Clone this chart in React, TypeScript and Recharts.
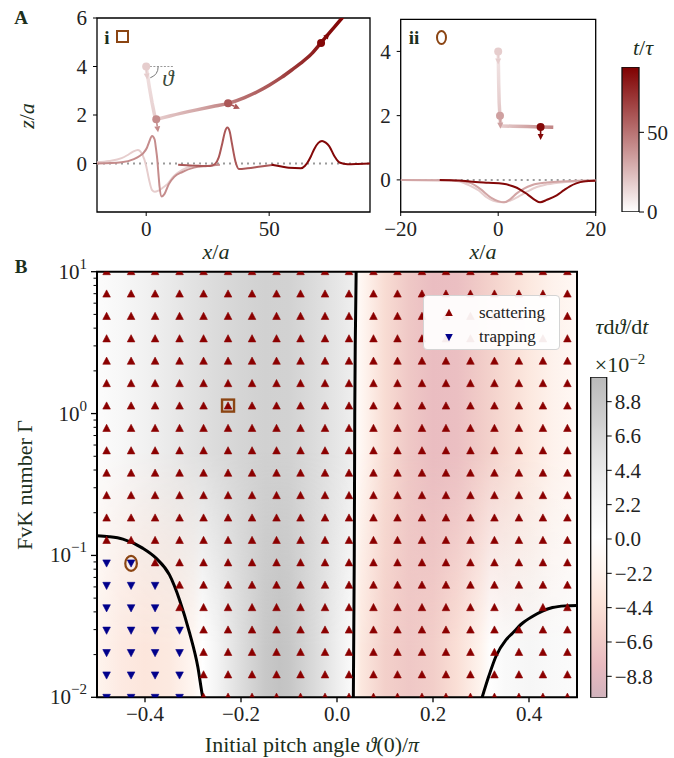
import React from "react";
import {
  ComposedChart,
  Line,
  Scatter,
  Bar,
  XAxis,
  YAxis,
  ReferenceArea,
  ReferenceLine,
  ReferenceDot,
  Legend,
} from "recharts";

const SERIF = '"Liberation Serif", "Times New Roman", serif';
const INK = "#1c2f1c";
const TICK_FILL = "#222";
const BROWN = "#8b4513";
const SCATTER_RED = "#8b0000";
const TRAP_BLUE = "#00008b";

// ---- panel A(i): sheet shape at four times + swimmer path ----
const sheetAi1 = [
  { x: -20, z: 0.05 }, { x: -15, z: 0.1 }, { x: -10, z: 0.22 }, { x: -7.7, z: 0.34 },
  { x: -5.5, z: 0.48 }, { x: -3.4, z: 0.56 }, { x: -1.6, z: 0.38 }, { x: 0, z: -0.1 },
  { x: 1.1, z: -0.64 }, { x: 2.4, z: -1.1 }, { x: 3.5, z: -1.17 }, { x: 5, z: -1.12 },
  { x: 7, z: -0.98 }, { x: 8.6, z: -0.85 }, { x: 11.3, z: -0.51 }, { x: 14.7, z: -0.26 },
  { x: 19, z: -0.1 }, { x: 22, z: -0.05 },
];
const sheetAi2 = [
  { x: -20, z: 0 }, { x: -10, z: 0.05 }, { x: -5, z: 0.18 }, { x: -2.5, z: 0.32 },
  { x: -1, z: 0.45 }, { x: 0.3, z: 0.65 }, { x: 1.1, z: 0.86 }, { x: 2.4, z: 1.13 },
  { x: 3.4, z: 1.0 }, { x: 4.0, z: 0.6 }, { x: 4.5, z: 0.18 }, { x: 5.0, z: -0.45 },
  { x: 5.4, z: -0.92 }, { x: 6.3, z: -1.36 }, { x: 7.4, z: -1.26 }, { x: 9.2, z: -0.85 },
  { x: 11.4, z: -0.55 }, { x: 14.7, z: -0.35 }, { x: 19.4, z: -0.17 }, { x: 24.8, z: -0.1 },
  { x: 30, z: -0.05 },
];
const sheetAi3 = [
  { x: 13, z: -0.05 }, { x: 18, z: -0.08 }, { x: 22, z: -0.1 }, { x: 26, z: -0.1 },
  { x: 28, z: -0.02 }, { x: 29.5, z: 0.25 }, { x: 31, z: 0.86 }, { x: 32, z: 1.3 },
  { x: 33, z: 1.48 }, { x: 34, z: 1.3 }, { x: 34.8, z: 0.86 }, { x: 36.4, z: 0.04 },
  { x: 37.7, z: -0.23 }, { x: 41.2, z: -0.2 }, { x: 46.6, z: -0.12 }, { x: 52, z: -0.05 },
];
const sheetAi4 = [
  { x: 51, z: -0.05 }, { x: 55, z: -0.12 }, { x: 58, z: -0.18 }, { x: 62.9, z: -0.2 },
  { x: 64.5, z: -0.1 }, { x: 65.6, z: 0.04 }, { x: 67, z: 0.3 }, { x: 68.3, z: 0.59 },
  { x: 70, z: 0.85 }, { x: 71.5, z: 0.93 }, { x: 73, z: 0.86 }, { x: 74.4, z: 0.72 },
  { x: 76.5, z: 0.31 }, { x: 78.6, z: 0.04 }, { x: 81.9, z: -0.03 }, { x: 86, z: -0.02 },
  { x: 91, z: 0 },
];
const sheetAiTimes = [18, 41, 60, 88];

const pathAiDescent = [
  { x: 0, z: 4.0, t: 11 }, { x: 1.2, z: 3.2, t: 13 }, { x: 2.4, z: 2.5, t: 15 },
  { x: 3.5, z: 1.95, t: 17 }, { x: 4.1, z: 1.82, t: 18 },
];
const pathAiCruise = [
  { x: 4.1, z: 1.82, t: 18 }, { x: 10, z: 1.97, t: 23 }, { x: 20, z: 2.2, t: 30 },
  { x: 27, z: 2.35, t: 38 }, { x: 33.3, z: 2.48, t: 45 }, { x: 40, z: 2.72, t: 52 },
  { x: 45, z: 2.95, t: 56 }, { x: 50, z: 3.23, t: 60 }, { x: 55, z: 3.55, t: 66 },
  { x: 60, z: 3.92, t: 72 }, { x: 63, z: 4.15, t: 75 }, { x: 67, z: 4.5, t: 79 },
  { x: 71, z: 4.97, t: 83 }, { x: 75, z: 5.45, t: 87 }, { x: 79, z: 5.92, t: 89 },
  { x: 82, z: 6.3, t: 90 },
];
const markersAi = [
  { x: 0, z: 4.0, t: 18, heading: -86 },
  { x: 4.1, z: 1.82, t: 41, heading: -82 },
  { x: 33.3, z: 2.48, t: 60, heading: -25 },
  { x: 71.1, z: 4.97, t: 88, heading: 50 },
];

// ---- panel A(ii) ----
const sheetAii1 = [
  { x: -20, z: 0 }, { x: -10, z: -0.02 }, { x: -8, z: -0.05 }, { x: -5.8, z: -0.18 },
  { x: -4, z: -0.33 }, { x: -2.4, z: -0.54 }, { x: -1, z: -0.65 }, { x: 1, z: -0.7 },
  { x: 2.5, z: -0.64 }, { x: 4.5, z: -0.49 }, { x: 6, z: -0.36 }, { x: 7.9, z: -0.22 },
  { x: 10, z: -0.14 }, { x: 13.4, z: -0.07 }, { x: 17, z: -0.04 }, { x: 20, z: -0.02 },
];
const sheetAii2 = [
  { x: -20, z: 0 }, { x: -10, z: -0.01 }, { x: -6, z: -0.08 }, { x: -3.7, z: -0.28 },
  { x: -1.5, z: -0.55 }, { x: 0, z: -0.66 }, { x: 1.2, z: -0.7 }, { x: 2.5, z: -0.6 },
  { x: 3.8, z: -0.42 }, { x: 5.2, z: -0.28 }, { x: 7, z: -0.16 }, { x: 10, z: -0.08 },
  { x: 14, z: -0.04 }, { x: 20, z: -0.01 },
];
const sheetAii3 = [
  { x: -12, z: 0 }, { x: -8, z: -0.02 }, { x: -5.8, z: -0.05 }, { x: -2, z: -0.09 },
  { x: 1, z: -0.12 }, { x: 3, z: -0.2 }, { x: 4.5, z: -0.3 }, { x: 6, z: -0.45 },
  { x: 7.5, z: -0.62 }, { x: 8.6, z: -0.7 }, { x: 10, z: -0.62 }, { x: 12, z: -0.48 },
  { x: 13.5, z: -0.32 }, { x: 14.7, z: -0.2 }, { x: 16, z: -0.11 }, { x: 17.5, z: -0.05 },
  { x: 20, z: -0.03 },
];
const sheetAiiTimes = [18, 32, 88];

const pathAiiDescent = [
  { x: 0, z: 4.0, t: 9 }, { x: 0.1, z: 3.0, t: 14 }, { x: 0.2, z: 2.4, t: 18 },
  { x: 0.35, z: 2.0, t: 21 }, { x: 0.5, z: 1.75, t: 23 }, { x: 0.6, z: 1.68, t: 24 },
];
const pathAiiCruise = [
  { x: 0.6, z: 1.68, t: 18 }, { x: 3, z: 1.67, t: 24 }, { x: 6, z: 1.66, t: 32 },
  { x: 8.7, z: 1.65, t: 38 }, { x: 11.3, z: 1.64, t: 44 },
];
const markersAii = [
  { x: 0, z: 4.0, t: 18, heading: -90 },
  { x: 0.37, z: 2.0, t: 34, heading: -88 },
  { x: 8.7, z: 1.65, t: 88, heading: -90 },
];

// ---- panel B: simulation grid ----
const pitchGrid = [
  -0.48, -0.429, -0.379, -0.328, -0.278, -0.227, -0.177, -0.126, -0.076, -0.025,
  0.025, 0.076, 0.126, 0.177, 0.227, 0.278, 0.328, 0.379, 0.429, 0.48,
];
const fvkGrid = [
  0.01, 0.01438, 0.02069, 0.02976, 0.04281, 0.06158, 0.08859, 0.1274, 0.1833, 0.2637,
  0.3793, 0.5456, 0.7848, 1.129, 1.624, 2.336, 3.36, 4.833, 6.952, 10,
];
// number of trapped runs (from the left) in each row, bottom row first
const trappedPerRow = [4, 4, 4, 4, 3, 3, 2, 0, 0, 0, 0, 0, 0, 0, 0, 0, 0, 0, 0, 0];

const squareRun = [{ x: -0.227, g: 1.129 }];
const circleRun = [{ x: -0.429, g: 0.08859 }];

const boundaryLeft = [
  { x: -0.5, g: 0.1375 }, { x: -0.475, g: 0.1355 }, { x: -0.446, g: 0.1303 },
  { x: -0.405, g: 0.1126 }, { x: -0.377, g: 0.0957 }, { x: -0.349, g: 0.0729 },
  { x: -0.328, g: 0.0486 }, { x: -0.307, g: 0.0283 }, { x: -0.29, g: 0.0164 },
  { x: -0.2797, g: 0.01 }, { x: -0.278, g: 0.0094 },
];
const boundaryMid = [
  { x: 0.034, g: 0.0094 }, { x: 0.035, g: 0.03 }, { x: 0.036, g: 0.1 }, { x: 0.0365, g: 0.3 },
  { x: 0.037, g: 1 }, { x: 0.038, g: 3 }, { x: 0.04, g: 10.5 },
];
const boundaryRight = [
  { x: 0.3, g: 0.0094 }, { x: 0.316, g: 0.014 }, { x: 0.331, g: 0.0194 }, { x: 0.352, g: 0.0254 },
  { x: 0.3655, g: 0.0283 }, { x: 0.385, g: 0.033 }, { x: 0.407, g: 0.0371 }, { x: 0.428, g: 0.0405 },
  { x: 0.449, g: 0.0429 }, { x: 0.475, g: 0.0441 }, { x: 0.5, g: 0.0444 },
];

// background tau*dtheta/dt (x1e-2): profile at large Gamma and at Gamma = 0.01
const fieldXTop = [
  -0.5, -0.45, -0.4, -0.35, -0.3, -0.25, -0.2, -0.15, -0.1, -0.05, 0, 0.02, 0.036, 0.04,
  0.06, 0.1, 0.15, 0.2, 0.25, 0.3, 0.35, 0.4, 0.45, 0.5,
];
const fieldTop = [
  0.8, 1.8, 3.0, 4.2, 5.3, 6.3, 7.0, 7.5, 7.3, 6.3, 4.8, 4.0, 3.3, -0.6,
  -2.2, -4.8, -6.8, -7.8, -7.6, -6.4, -5.0, -3.5, -2.2, -1.2,
];
const fieldXBottom = [
  -0.5, -0.45, -0.4, -0.35, -0.3, -0.28, -0.25, -0.2, -0.15, -0.12, -0.1, -0.05, 0, 0.02,
  0.034, 0.038, 0.05, 0.1, 0.15, 0.2, 0.25, 0.3, 0.32, 0.35, 0.4, 0.45, 0.5,
];
const fieldBottom = [
  -2.0, -3.2, -3.8, -3.4, -1.6, 0.2, 2.5, 6.0, 8.5, 9.2, 8.8, 6.5, 3.5, 2.0,
  1.0, -1.5, -3.5, -6.0, -6.8, -6.2, -4.5, -2.0, 0.3, 1.5, 2.0, 1.5, 1.0,
];

const pitchTicks = [-0.4, -0.2, 0, 0.2, 0.4];
const gammaTicks = [
  0.01, 0.02, 0.03, 0.04, 0.05, 0.06, 0.07, 0.08, 0.09,
  0.1, 0.2, 0.3, 0.4, 0.5, 0.6, 0.7, 0.8, 0.9,
  1, 2, 3, 4, 5, 6, 7, 8, 9, 10,
];
const fieldTicks = [-8.8, -6.6, -4.4, -2.2, 0, 2.2, 4.4, 6.6, 8.8];
const timeTicks = [0, 50];

const legendItems = [
  { label: "scattering", color: SCATTER_RED, up: true },
  { label: "trapping", color: TRAP_BLUE, up: false },
];

// ---- colour maps ----
const TIME_MAX = 91;
const FIELD_MIN = -10.17;
const FIELD_MAX = 10.38;
const RDGY = [
  "#67001f", "#b2182b", "#d6604d", "#f4a582", "#fddbc7", "#ffffff",
  "#e0e0e0", "#bababa", "#878787", "#4d4d4d", "#1a1a1a",
];
const timeBarData = [{ k: "t", span: [0, TIME_MAX] }];
const fieldBarData = [{ k: "f", span: [FIELD_MIN, FIELD_MAX] }];

const hex = (h: string) => [1, 3, 5].map((i) => parseInt(h.slice(i, i + 2), 16));
const rgb = (c: number[]) => `rgb(${c.map((v) => Math.round(v)).join(",")})`;

function timeColor(t: number) {
  const f = Math.min(1, Math.max(0, t / TIME_MAX));
  return rgb([255 - 128 * f, 255 * (1 - f), 255 * (1 - f)]);
}

function fieldColor(v: number) {
  const t = Math.min(1, Math.max(0, (v - FIELD_MIN) / (FIELD_MAX - FIELD_MIN)));
  const p = t * (RDGY.length - 1);
  const i = Math.min(RDGY.length - 2, Math.floor(p));
  const f = p - i;
  const a = hex(RDGY[i]);
  const b = hex(RDGY[i + 1]);
  return rgb(a.map((av, k) => 255 + (av + (b[k] - av) * f - 255) * 0.3));
}

const fmt = (v: number, d = 0) => (v < -1e-9 ? "\u2212" : "") + Math.abs(v).toFixed(d);

const scattering: { x: number; g: number }[] = [];
const trapping: { x: number; g: number }[] = [];
fvkGrid.forEach((g, row) =>
  pitchGrid.forEach((x, col) => (col < trappedPerRow[row] ? trapping : scattering).push({ x, g }))
);

const TICK_SIZE = 21;
const LABEL_SIZE = 22;
const tickStyle = { fill: TICK_FILL, fontSize: TICK_SIZE, fontFamily: SERIF };

// ---- shapes ----
function PathMarker(p: any) {
  const { cx, cy, payload } = p;
  const col = timeColor(payload.t);
  const a = (payload.heading * Math.PI) / 180;
  const dx = Math.cos(a);
  const dy = -Math.sin(a);
  const L = 13;
  const ex = cx + L * dx;
  const ey = cy + L * dy;
  const bx = ex - 6 * dx;
  const by = ey - 6 * dy;
  const nx = -dy;
  const ny = dx;
  return (
    <g>
      <line x1={cx} y1={cy} x2={bx} y2={by} stroke={col} strokeWidth={1.6} />
      <polygon
        points={`${ex},${ey} ${bx + 3 * nx},${by + 3 * ny} ${bx - 3 * nx},${by - 3 * ny}`}
        fill={col}
      />
      <circle cx={cx} cy={cy} r={4} fill={col} />
    </g>
  );
}

const TriUp = (p: any) => (
  <polygon
    points={`${p.cx},${p.cy - 4.2} ${p.cx - 3.8},${p.cy + 3} ${p.cx + 3.8},${p.cy + 3}`}
    fill={SCATTER_RED}
    stroke={SCATTER_RED}
    strokeWidth={0.6}
  />
);
const TriDown = (p: any) => (
  <polygon
    points={`${p.cx},${p.cy + 4.2} ${p.cx - 3.8},${p.cy - 3} ${p.cx + 3.8},${p.cy - 3}`}
    fill={TRAP_BLUE}
    stroke={TRAP_BLUE}
    strokeWidth={0.6}
  />
);
const SquareMark = (p: any) => (
  <rect x={p.cx - 6} y={p.cy - 6.5} width={12} height={12} fill="none" stroke={BROWN} strokeWidth={2.4} />
);
const CircleMark = (p: any) => (
  <ellipse cx={p.cx} cy={p.cy + 0.5} rx={5.8} ry={7.5} fill="none" stroke={BROWN} strokeWidth={2.2} />
);

const HeatShape = (p: any) => (
  <g>
    <rect x={p.x} y={p.y} width={p.width} height={p.height} fill="url(#heatTop)" />
    <rect x={p.x} y={p.y} width={p.width} height={p.height} fill="url(#heatBottom)" mask="url(#heatFade)" />
  </g>
);

const AngleMark = (p: any) => {
  const { cx, cy } = p;
  const r = 12;
  const a = (70 * Math.PI) / 180;
  return (
    <g>
      <path
        d={`M ${cx + r} ${cy} A ${r} ${r} 0 0 1 ${cx + r * Math.cos(a)} ${cy + r * Math.sin(a)}`}
        fill="none"
        stroke="#777"
        strokeWidth={1}
      />
      <text x={cx + 16} y={cy + 19} fontSize={23} fontStyle="italic" fontFamily={SERIF} fill="#3a4a3a">
        ϑ
      </text>
    </g>
  );
};

function LogTick(p: any) {
  const { x, y, payload } = p;
  const e = Math.log10(payload.value);
  const exp = Math.round(e);
  const major = Math.abs(e - exp) < 1e-6;
  const len = major ? 6 : 3.5;
  return (
    <g>
      <line x1={x - len} x2={x} y1={y} y2={y} stroke="#000" strokeWidth={major ? 1.3 : 1} />
      {major && (
        <text x={x - 10} y={y + 7} textAnchor="end" fill={TICK_FILL} fontSize={TICK_SIZE} fontFamily={SERIF}>
          10
          <tspan dy={-10} fontSize={15}>
            {exp < 0 ? "\u2212" + -exp : String(exp)}
          </tspan>
        </text>
      )}
    </g>
  );
}

function LegendBox() {
  return (
    <div
      style={{
        width: 137,
        height: 55,
        boxSizing: "border-box",
        border: "1.3px solid #d4d4d4",
        borderRadius: 4,
        background: "rgba(255,255,255,0.93)",
        position: "relative",
        fontFamily: SERIF,
        fontSize: 17,
        color: TICK_FILL,
      }}
    >
      {legendItems.map((it, i) => (
        <div key={it.label} style={{ position: "absolute", left: 0, top: 7 + i * 24, height: 20, width: 137 }}>
          <svg width={20} height={20} style={{ position: "absolute", left: 15, top: 0 }}>
            <polygon
              points={it.up ? "10,5.8 6.2,13 13.8,13" : "10,14.2 6.2,7 13.8,7"}
              fill={it.color}
            />
          </svg>
          <span style={{ position: "absolute", left: 55, top: 0, lineHeight: "20px" }}>{it.label}</span>
        </div>
      ))}
    </div>
  );
}

// ---- gradients ----
const stopsAlong = (pts: { x: number; z: number; t: number }[], key: "x" | "z", flip: boolean) => {
  const vals = pts.map((q) => q[key]);
  const lo = Math.min(...vals);
  const hi = Math.max(...vals);
  return pts.map((q, i) => {
    const o = flip ? (hi - q[key]) / (hi - lo) : (q[key] - lo) / (hi - lo);
    return <stop key={i} offset={o} stopColor={timeColor(q.t)} />;
  });
};

function Defs() {
  const barStops = [];
  for (let i = 0; i <= 40; i++) {
    const v = FIELD_MAX - ((FIELD_MAX - FIELD_MIN) * i) / 40;
    barStops.push(<stop key={i} offset={i / 40} stopColor={fieldColor(v)} />);
  }
  return (
    <svg width={0} height={0} style={{ position: "absolute" }}>
      <defs>
        <linearGradient id="heatTop" x1="0" y1="0" x2="1" y2="0">
          {fieldXTop.map((x, i) => (
            <stop key={i} offset={x + 0.5} stopColor={fieldColor(fieldTop[i])} />
          ))}
        </linearGradient>
        <linearGradient id="heatBottom" x1="0" y1="0" x2="1" y2="0">
          {fieldXBottom.map((x, i) => (
            <stop key={i} offset={x + 0.5} stopColor={fieldColor(fieldBottom[i])} />
          ))}
        </linearGradient>
        <linearGradient id="heatFadeGrad" x1="0" y1="0" x2="0" y2="1">
          <stop offset={0.42} stopColor="#000" />
          <stop offset={0.88} stopColor="#fff" />
        </linearGradient>
        <mask id="heatFade" maskContentUnits="objectBoundingBox">
          <rect x={0} y={0} width={1} height={1} fill="url(#heatFadeGrad)" />
        </mask>
        <linearGradient id="pathAiDown" x1="0" y1="0" x2="0" y2="1">
          {stopsAlong(pathAiDescent, "z", true)}
        </linearGradient>
        <linearGradient id="pathAiCruise" x1="0" y1="0" x2="1" y2="0">
          {stopsAlong(pathAiCruise, "x", false)}
        </linearGradient>
        <linearGradient id="pathAiiDown" x1="0" y1="0" x2="0" y2="1">
          {stopsAlong(pathAiiDescent, "z", true)}
        </linearGradient>
        <linearGradient id="pathAiiCruise" x1="0" y1="0" x2="1" y2="0">
          {stopsAlong(pathAiiCruise, "x", false)}
        </linearGradient>
        <linearGradient id="fieldBar" x1="0" y1="0" x2="0" y2="1">
          {barStops}
        </linearGradient>
        <linearGradient id="timeBar" x1="0" y1="0" x2="0" y2="1">
          <stop offset={0} stopColor={timeColor(TIME_MAX)} />
          <stop offset={1} stopColor={timeColor(0)} />
        </linearGradient>
      </defs>
    </svg>
  );
}

function Text({ x, y, size = LABEL_SIZE, rotate = false, style, children }: any) {
  return (
    <div
      style={{
        position: "absolute",
        left: x,
        top: y,
        transform: `translate(-50%, -50%)${rotate ? " rotate(-90deg)" : ""}`,
        whiteSpace: "nowrap",
        fontFamily: SERIF,
        fontSize: size,
        color: INK,
        lineHeight: 1,
        ...style,
      }}
    >
      {children}
    </div>
  );
}

const it = { fontStyle: "italic" as const };

export default function App() {
  const sheetsAi = [sheetAi1, sheetAi2, sheetAi3, sheetAi4];
  const sheetsAii = [sheetAii1, sheetAii2, sheetAii3];
  return (
    <div style={{ position: "absolute", left: 0, top: 0, width: 674, height: 758, background: "#fff" }}>
      <Defs />

      {/* A (i) */}
      <div style={{ position: "absolute", left: 0, top: 0 }}>
        <ComposedChart width={380} height={260} margin={{ top: 18, right: 10, bottom: 18, left: 37 }}>
          <XAxis type="number" dataKey="x" domain={[-20, 91]} ticks={[0, 50]} tickFormatter={(v) => fmt(v)}
            allowDataOverflow height={30} tickSize={4} tickMargin={5} interval={0}
            axisLine={false} tickLine={{ stroke: "#000" }} tick={tickStyle} />
          <YAxis type="number" dataKey="z" domain={[-2, 6]} ticks={[0, 2, 4, 6]} tickFormatter={(v) => fmt(v)}
            allowDataOverflow width={60} tickSize={4} tickMargin={6} interval={0}
            axisLine={false} tickLine={{ stroke: "#000" }} tick={tickStyle} />
          <ReferenceLine y={0} stroke="#9a9a9a" strokeWidth={2} strokeDasharray="2 4" />
          {sheetsAi.map((s, i) => (
            <Line key={i} data={s} dataKey="z" type="monotone" stroke={timeColor(sheetAiTimes[i])}
              strokeWidth={2} dot={false} isAnimationActive={false} />
          ))}
          <ReferenceLine segment={[{ x: 1.5, y: 4 }, { x: 11, y: 4 }]} stroke="#999" strokeWidth={1} strokeDasharray="2 1.5" />
          <ReferenceDot x={0} y={4} r={0} shape={AngleMark} />
          <Line data={pathAiDescent} dataKey="z" type="linear" stroke="url(#pathAiDown)" strokeWidth={3.5}
            dot={false} isAnimationActive={false} />
          <Line data={pathAiCruise} dataKey="z" type="monotone" stroke="url(#pathAiCruise)" strokeWidth={3.5}
            dot={false} isAnimationActive={false} />
          <Scatter data={markersAi} shape={PathMarker} isAnimationActive={false} />
          <ReferenceArea x1={-20} x2={91} y1={-2} y2={6} fill="none" stroke="#000" strokeWidth={1.3} />
        </ComposedChart>
      </div>

      {/* A (ii) */}
      <div style={{ position: "absolute", left: 340, top: 0 }}>
        <ComposedChart width={270} height={260} margin={{ top: 19.3, right: 14.3, bottom: 18, left: 0.7 }}>
          <XAxis type="number" dataKey="x" domain={[-20, 20]} ticks={[-20, 0, 20]} tickFormatter={(v) => fmt(v)}
            allowDataOverflow height={30} tickSize={4} tickMargin={5} interval={0}
            axisLine={false} tickLine={{ stroke: "#000" }} tick={tickStyle} />
          <YAxis type="number" dataKey="z" domain={[-1, 5]} ticks={[0, 2, 4]} tickFormatter={(v) => fmt(v)}
            allowDataOverflow width={60} tickSize={4} tickMargin={6} interval={0}
            axisLine={false} tickLine={{ stroke: "#000" }} tick={tickStyle} />
          <ReferenceLine y={0} stroke="#9a9a9a" strokeWidth={2} strokeDasharray="2 4" />
          {sheetsAii.map((s, i) => (
            <Line key={i} data={s} dataKey="z" type="monotone" stroke={timeColor(sheetAiiTimes[i])}
              strokeWidth={2} dot={false} isAnimationActive={false} />
          ))}
          <Line data={pathAiiDescent} dataKey="z" type="linear" stroke="url(#pathAiiDown)" strokeWidth={3.5}
            dot={false} isAnimationActive={false} />
          <Line data={pathAiiCruise} dataKey="z" type="linear" stroke="url(#pathAiiCruise)" strokeWidth={3.5}
            dot={false} isAnimationActive={false} />
          <Scatter data={markersAii} shape={PathMarker} isAnimationActive={false} />
          <ReferenceArea x1={-20} x2={20} y1={-1} y2={5} fill="none" stroke="#000" strokeWidth={1.3} />
        </ComposedChart>
      </div>

      {/* colour bar t/tau */}
      <div style={{ position: "absolute", left: 570, top: 40 }}>
        <ComposedChart width={104} height={200} data={timeBarData} barCategoryGap={0} barGap={0}
          margin={{ top: 27, right: 0, bottom: 28, left: 52 }}>
          <XAxis type="category" dataKey="k" hide />
          <YAxis type="number" orientation="right" domain={[0, TIME_MAX]} ticks={timeTicks}
            allowDataOverflow width={35} tickSize={5} tickMargin={3} interval={0}
            axisLine={false} tickLine={{ stroke: "#000" }} tick={tickStyle} />
          <Bar dataKey="span" fill="url(#timeBar)" stroke="#111" strokeWidth={1.3} isAnimationActive={false} />
        </ComposedChart>
      </div>

      {/* B */}
      <div style={{ position: "absolute", left: 0, top: 250 }}>
        <ComposedChart width={674} height={508} margin={{ top: 21.7, right: 97, bottom: 30.7, left: 37 }}>
          <XAxis type="number" dataKey="x" domain={[-0.5, 0.5]} ticks={pitchTicks} tickFormatter={(v) => fmt(v, 1)}
            allowDataOverflow height={30} tickSize={5} tickMargin={4} interval={0}
            axisLine={false} tickLine={{ stroke: "#000", strokeWidth: 1.3 }} tick={tickStyle} />
          <YAxis type="number" dataKey="g" scale="log" domain={[0.01, 10]} ticks={gammaTicks}
            allowDataOverflow width={60} tickSize={0} tickMargin={0} interval={0}
            axisLine={false} tickLine={false} tick={(p: any) => <LogTick {...p} />} />
          <ReferenceArea x1={-0.5} x2={0.5} y1={0.01} y2={10} shape={HeatShape} />
          <Scatter data={scattering} shape={TriUp} isAnimationActive={false} />
          <Scatter data={trapping} shape={TriDown} isAnimationActive={false} />
          <Line data={boundaryLeft} dataKey="g" type="monotone" stroke="#000" strokeWidth={3}
            dot={false} isAnimationActive={false} />
          <Line data={boundaryMid} dataKey="g" type="linear" stroke="#000" strokeWidth={3}
            dot={false} isAnimationActive={false} />
          <Line data={boundaryRight} dataKey="g" type="monotone" stroke="#000" strokeWidth={3}
            dot={false} isAnimationActive={false} />
          <Scatter data={squareRun} shape={SquareMark} isAnimationActive={false} />
          <Scatter data={circleRun} shape={CircleMark} isAnimationActive={false} />
          <ReferenceArea x1={-0.5} x2={0.5} y1={0.01} y2={10} fill="none" stroke="#000" strokeWidth={2} />
          <Legend verticalAlign="middle" align="center" layout="horizontal"
            wrapperStyle={{ left: 423, top: 45, width: 137, height: 55 }} content={() => <LegendBox />} />
        </ComposedChart>
      </div>

      {/* colour bar tau dtheta/dt */}
      <div style={{ position: "absolute", left: 560, top: 360 }}>
        <ComposedChart width={114} height={360} data={fieldBarData} barCategoryGap={0} barGap={0}
          margin={{ top: 17, right: 7.3, bottom: 22.3, left: 30.7 }}>
          <XAxis type="category" dataKey="k" hide />
          <YAxis type="number" orientation="right" domain={[FIELD_MIN, FIELD_MAX]} ticks={fieldTicks}
            tickFormatter={(v) => fmt(v, 1)} allowDataOverflow width={60} tickSize={5} tickMargin={3}
            interval={0} axisLine={false} tickLine={{ stroke: "#000" }} tick={tickStyle} />
          <Bar dataKey="span" fill="url(#fieldBar)" stroke="#111" strokeWidth={1.3} isAnimationActive={false} />
        </ComposedChart>
      </div>

      {/* texts */}
      <Text x={21} y={17} size={19} style={{ fontWeight: "bold" }}>A</Text>
      <Text x={21} y={266} size={19} style={{ fontWeight: "bold" }}>B</Text>
      <Text x={107} y={37} size={19} style={{ fontWeight: "bold" }}>i</Text>
      <div style={{ position: "absolute", left: 115.5, top: 30, width: 13, height: 13, boxSizing: "border-box", border: `2.5px solid ${BROWN}` }} />
      <Text x={414} y={37} size={19} style={{ fontWeight: "bold" }}>ii</Text>
      <div style={{ position: "absolute", left: 435.5, top: 29.5, width: 11, height: 15, boxSizing: "border-box", border: `2.4px solid ${BROWN}`, borderRadius: "50%" }} />
      <Text x={216} y={252}><span style={it}>x</span>/<span style={it}>a</span></Text>
      <Text x={483} y={252}><span style={it}>x</span>/<span style={it}>a</span></Text>
      <Text x={27} y={116} rotate><span style={it}>z</span>/<span style={it}>a</span></Text>
      <Text x={643} y={48}><span style={it}>t</span>/<span style={it}>τ</span></Text>
      <Text x={622} y={327}><span style={it}>τ</span>d<span style={it}>ϑ</span>/d<span style={it}>t</span></Text>
      <Text x={620} y={364}>×10<sup style={{ fontSize: 15 }}>−2</sup></Text>
      <Text x={312} y={745}>Initial pitch angle <span style={it}>ϑ</span>(0)/<span style={it}>π</span></Text>
      <Text x={25} y={485} rotate>FvK number Γ</Text>
    </div>
  );
}
